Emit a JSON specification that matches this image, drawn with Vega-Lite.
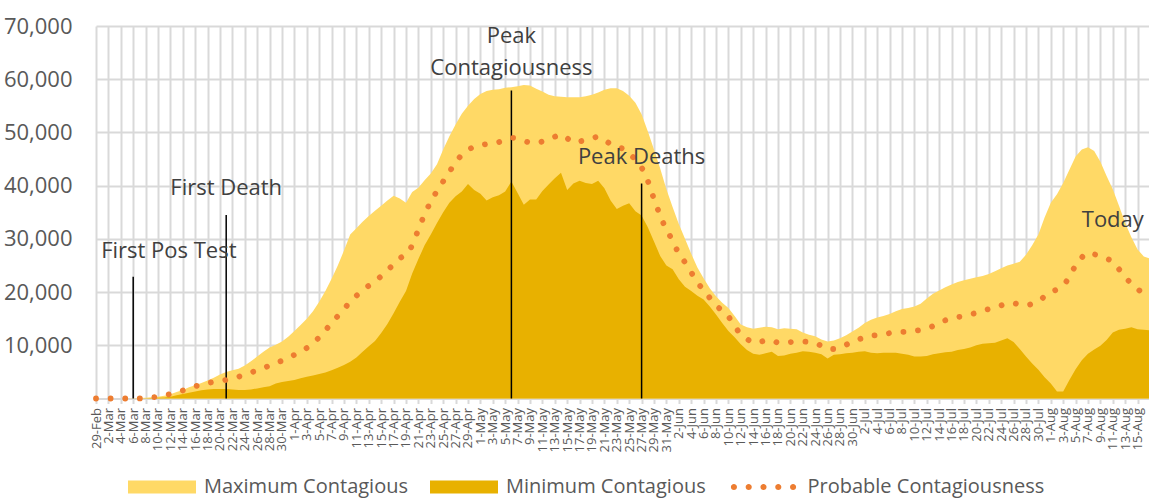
{
  "$schema": "https://vega.github.io/schema/vega-lite/v6.json",
  "width": 1053,
  "height": 372.5,
  "autosize": {"type": "none"},
  "padding": {"left": 96, "top": 26, "right": 0, "bottom": 102.5},
  "background": "white",
  "config": {"view": {"stroke": null}, "font": "Open Sans"},
  "datasets": {
    "series": [
      {"date":"2020-02-29","max":0,"min":0,"prob":0},
      {"date":"2020-03-01","max":0,"min":0,"prob":0},
      {"date":"2020-03-02","max":0,"min":0,"prob":0},
      {"date":"2020-03-03","max":0,"min":0,"prob":0},
      {"date":"2020-03-04","max":0,"min":0,"prob":0},
      {"date":"2020-03-05","max":0,"min":0,"prob":0},
      {"date":"2020-03-06","max":50,"min":0,"prob":0},
      {"date":"2020-03-07","max":100,"min":20,"prob":20},
      {"date":"2020-03-08","max":150,"min":50,"prob":50},
      {"date":"2020-03-09","max":250,"min":80,"prob":200},
      {"date":"2020-03-10","max":350,"min":120,"prob":350},
      {"date":"2020-03-11","max":500,"min":200,"prob":600},
      {"date":"2020-03-12","max":800,"min":350,"prob":850},
      {"date":"2020-03-13","max":1200,"min":600,"prob":1200},
      {"date":"2020-03-14","max":1600,"min":850,"prob":1500},
      {"date":"2020-03-15","max":2100,"min":1100,"prob":1900},
      {"date":"2020-03-16","max":2500,"min":1300,"prob":2300},
      {"date":"2020-03-17","max":2900,"min":1550,"prob":2600},
      {"date":"2020-03-18","max":3400,"min":1700,"prob":2900},
      {"date":"2020-03-19","max":3900,"min":1800,"prob":3100},
      {"date":"2020-03-20","max":4500,"min":1800,"prob":3300},
      {"date":"2020-03-21","max":5000,"min":1800,"prob":3500},
      {"date":"2020-03-22","max":5300,"min":1700,"prob":3800},
      {"date":"2020-03-23","max":5600,"min":1600,"prob":4100},
      {"date":"2020-03-24","max":6200,"min":1600,"prob":4500},
      {"date":"2020-03-25","max":7000,"min":1700,"prob":4900},
      {"date":"2020-03-26","max":7900,"min":1900,"prob":5300},
      {"date":"2020-03-27","max":8800,"min":2100,"prob":5700},
      {"date":"2020-03-28","max":9600,"min":2300,"prob":6200},
      {"date":"2020-03-29","max":10100,"min":2800,"prob":6700},
      {"date":"2020-03-30","max":10700,"min":3100,"prob":7100},
      {"date":"2020-03-31","max":11600,"min":3300,"prob":7700},
      {"date":"2020-04-01","max":12700,"min":3500,"prob":8200},
      {"date":"2020-04-02","max":13800,"min":3800,"prob":8800},
      {"date":"2020-04-03","max":15000,"min":4100,"prob":9500},
      {"date":"2020-04-04","max":16400,"min":4300,"prob":10400},
      {"date":"2020-04-05","max":18200,"min":4600,"prob":11500},
      {"date":"2020-04-06","max":20200,"min":4900,"prob":12800},
      {"date":"2020-04-07","max":22500,"min":5300,"prob":14200},
      {"date":"2020-04-08","max":25000,"min":5800,"prob":15500},
      {"date":"2020-04-09","max":27800,"min":6300,"prob":16800},
      {"date":"2020-04-10","max":30800,"min":6900,"prob":18200},
      {"date":"2020-04-11","max":32000,"min":7700,"prob":19300},
      {"date":"2020-04-12","max":33200,"min":8800,"prob":20300},
      {"date":"2020-04-13","max":34300,"min":9800,"prob":21200},
      {"date":"2020-04-14","max":35300,"min":10800,"prob":22000},
      {"date":"2020-04-15","max":36200,"min":12300,"prob":23000},
      {"date":"2020-04-16","max":37200,"min":14000,"prob":24100},
      {"date":"2020-04-17","max":38100,"min":16000,"prob":25200},
      {"date":"2020-04-18","max":37600,"min":18200,"prob":26300},
      {"date":"2020-04-19","max":36800,"min":20200,"prob":27200},
      {"date":"2020-04-20","max":38800,"min":23500,"prob":28800},
      {"date":"2020-04-21","max":39600,"min":26200,"prob":31800},
      {"date":"2020-04-22","max":41000,"min":28800,"prob":34600},
      {"date":"2020-04-23","max":42300,"min":30800,"prob":37000},
      {"date":"2020-04-24","max":44000,"min":33000,"prob":39000},
      {"date":"2020-04-25","max":46800,"min":35000,"prob":40800},
      {"date":"2020-04-26","max":49300,"min":36800,"prob":42600},
      {"date":"2020-04-27","max":51500,"min":38000,"prob":44300},
      {"date":"2020-04-28","max":53500,"min":38900,"prob":45800},
      {"date":"2020-04-29","max":55000,"min":40300,"prob":46700},
      {"date":"2020-04-30","max":56300,"min":39200,"prob":47300},
      {"date":"2020-05-01","max":57200,"min":38500,"prob":47600},
      {"date":"2020-05-02","max":57800,"min":37200,"prob":47800},
      {"date":"2020-05-03","max":58000,"min":37800,"prob":47900},
      {"date":"2020-05-04","max":58100,"min":38200,"prob":48200},
      {"date":"2020-05-05","max":58400,"min":38900,"prob":48700},
      {"date":"2020-05-06","max":58500,"min":40800,"prob":49000},
      {"date":"2020-05-07","max":58700,"min":38600,"prob":48800},
      {"date":"2020-05-08","max":58900,"min":36400,"prob":48400},
      {"date":"2020-05-09","max":58800,"min":37400,"prob":48100},
      {"date":"2020-05-10","max":58200,"min":37400,"prob":48000},
      {"date":"2020-05-11","max":57700,"min":39000,"prob":48300},
      {"date":"2020-05-12","max":57100,"min":40200,"prob":48700},
      {"date":"2020-05-13","max":56800,"min":41400,"prob":49200},
      {"date":"2020-05-14","max":56700,"min":42400,"prob":49600},
      {"date":"2020-05-15","max":56600,"min":39200,"prob":48900},
      {"date":"2020-05-16","max":56600,"min":40400,"prob":48100},
      {"date":"2020-05-17","max":56600,"min":40900,"prob":48300},
      {"date":"2020-05-18","max":56800,"min":40500,"prob":48600},
      {"date":"2020-05-19","max":57100,"min":40300,"prob":48900},
      {"date":"2020-05-20","max":57500,"min":40900,"prob":49200},
      {"date":"2020-05-21","max":58000,"min":39500,"prob":48600},
      {"date":"2020-05-22","max":58300,"min":37200,"prob":47800},
      {"date":"2020-05-23","max":58300,"min":35600,"prob":47300},
      {"date":"2020-05-24","max":57800,"min":36200,"prob":46900},
      {"date":"2020-05-25","max":56900,"min":36700,"prob":46000},
      {"date":"2020-05-26","max":55600,"min":35200,"prob":44900},
      {"date":"2020-05-27","max":53400,"min":34400,"prob":43400},
      {"date":"2020-05-28","max":50200,"min":32200,"prob":40900},
      {"date":"2020-05-29","max":46800,"min":29500,"prob":37500},
      {"date":"2020-05-30","max":43200,"min":26800,"prob":34400},
      {"date":"2020-05-31","max":39300,"min":25000,"prob":31700},
      {"date":"2020-06-01","max":36000,"min":24300,"prob":29700},
      {"date":"2020-06-02","max":32800,"min":22400,"prob":27200},
      {"date":"2020-06-03","max":30000,"min":21000,"prob":25600},
      {"date":"2020-06-04","max":27200,"min":20200,"prob":23700},
      {"date":"2020-06-05","max":24600,"min":19300,"prob":21800},
      {"date":"2020-06-06","max":22600,"min":18600,"prob":20400},
      {"date":"2020-06-07","max":20700,"min":17300,"prob":18900},
      {"date":"2020-06-08","max":19200,"min":15800,"prob":17500},
      {"date":"2020-06-09","max":18000,"min":14200,"prob":16500},
      {"date":"2020-06-10","max":17000,"min":12700,"prob":15400},
      {"date":"2020-06-11","max":15500,"min":11500,"prob":13600},
      {"date":"2020-06-12","max":13900,"min":10200,"prob":12100},
      {"date":"2020-06-13","max":13400,"min":9100,"prob":11200},
      {"date":"2020-06-14","max":13100,"min":8400,"prob":10500},
      {"date":"2020-06-15","max":13300,"min":8200,"prob":10600},
      {"date":"2020-06-16","max":13500,"min":8500,"prob":10900},
      {"date":"2020-06-17","max":13400,"min":8800,"prob":11000},
      {"date":"2020-06-18","max":13000,"min":8000,"prob":10500},
      {"date":"2020-06-19","max":13200,"min":8100,"prob":10500},
      {"date":"2020-06-20","max":13100,"min":8400,"prob":10600},
      {"date":"2020-06-21","max":13000,"min":8600,"prob":10700},
      {"date":"2020-06-22","max":12400,"min":8900,"prob":10700},
      {"date":"2020-06-23","max":12000,"min":8800,"prob":10600},
      {"date":"2020-06-24","max":11700,"min":8600,"prob":10400},
      {"date":"2020-06-25","max":11100,"min":8300,"prob":9900},
      {"date":"2020-06-26","max":10700,"min":7500,"prob":9300},
      {"date":"2020-06-27","max":10900,"min":8200,"prob":9300},
      {"date":"2020-06-28","max":11300,"min":8300,"prob":9600},
      {"date":"2020-06-29","max":11900,"min":8500,"prob":10100},
      {"date":"2020-06-30","max":12600,"min":8600,"prob":10700},
      {"date":"2020-07-01","max":13300,"min":8800,"prob":11100},
      {"date":"2020-07-02","max":14200,"min":8900,"prob":11500},
      {"date":"2020-07-03","max":14800,"min":8600,"prob":11800},
      {"date":"2020-07-04","max":15200,"min":8500,"prob":11900},
      {"date":"2020-07-05","max":15500,"min":8600,"prob":12000},
      {"date":"2020-07-06","max":15900,"min":8600,"prob":12300},
      {"date":"2020-07-07","max":16400,"min":8600,"prob":12500},
      {"date":"2020-07-08","max":16800,"min":8400,"prob":12500},
      {"date":"2020-07-09","max":17000,"min":8200,"prob":12600},
      {"date":"2020-07-10","max":17300,"min":7900,"prob":12700},
      {"date":"2020-07-11","max":17800,"min":7900,"prob":12900},
      {"date":"2020-07-12","max":18800,"min":8000,"prob":13200},
      {"date":"2020-07-13","max":19700,"min":8300,"prob":13600},
      {"date":"2020-07-14","max":20300,"min":8500,"prob":14200},
      {"date":"2020-07-15","max":20900,"min":8700,"prob":14700},
      {"date":"2020-07-16","max":21400,"min":8800,"prob":15100},
      {"date":"2020-07-17","max":21900,"min":9100,"prob":15300},
      {"date":"2020-07-18","max":22200,"min":9300,"prob":15500},
      {"date":"2020-07-19","max":22500,"min":9600,"prob":15800},
      {"date":"2020-07-20","max":22800,"min":10000,"prob":16100},
      {"date":"2020-07-21","max":23000,"min":10300,"prob":16500},
      {"date":"2020-07-22","max":23400,"min":10400,"prob":16800},
      {"date":"2020-07-23","max":23900,"min":10500,"prob":17100},
      {"date":"2020-07-24","max":24500,"min":10900,"prob":17500},
      {"date":"2020-07-25","max":25000,"min":11300,"prob":17900},
      {"date":"2020-07-26","max":25300,"min":10600,"prob":17900},
      {"date":"2020-07-27","max":25700,"min":9300,"prob":17600},
      {"date":"2020-07-28","max":27000,"min":7900,"prob":17500},
      {"date":"2020-07-29","max":28800,"min":6600,"prob":17800},
      {"date":"2020-07-30","max":30800,"min":5400,"prob":18200},
      {"date":"2020-07-31","max":34000,"min":4000,"prob":19200},
      {"date":"2020-08-01","max":36800,"min":2800,"prob":20000},
      {"date":"2020-08-02","max":38400,"min":1300,"prob":20500},
      {"date":"2020-08-03","max":40500,"min":1300,"prob":21200},
      {"date":"2020-08-04","max":43000,"min":3500,"prob":22900},
      {"date":"2020-08-05","max":45500,"min":5500,"prob":25000},
      {"date":"2020-08-06","max":46800,"min":7200,"prob":26500},
      {"date":"2020-08-07","max":47200,"min":8400,"prob":27400},
      {"date":"2020-08-08","max":46500,"min":9200,"prob":27100},
      {"date":"2020-08-09","max":44500,"min":9900,"prob":26800},
      {"date":"2020-08-10","max":41800,"min":11000,"prob":26300},
      {"date":"2020-08-11","max":39300,"min":12400,"prob":25700},
      {"date":"2020-08-12","max":36200,"min":12900,"prob":24300},
      {"date":"2020-08-13","max":33000,"min":13100,"prob":22800},
      {"date":"2020-08-14","max":30300,"min":13400,"prob":21600},
      {"date":"2020-08-15","max":28000,"min":13000,"prob":20600},
      {"date":"2020-08-16","max":26700,"min":12900,"prob":19600},
      {"date":"2020-08-17","max":26300,"min":12800,"prob":19200}
    ],
    "events": [
      {"date":"2020-03-06","top":22900},
      {"date":"2020-03-21","top":34500},
      {"date":"2020-05-06","top":57900},
      {"date":"2020-05-27","top":40400}
    ],
    "notes": [
      {"date":"2020-03-11T18:00:00Z","y":27760,"text":"First Pos Test"},
      {"date":"2020-03-21","y":39600,"text":"First Death"},
      {"date":"2020-05-06","y":68200,"text":"Peak"},
      {"date":"2020-05-06","y":62200,"text":"Contagiousness"},
      {"date":"2020-05-27","y":45300,"text":"Peak Deaths"},
      {"date":"2020-08-11","y":33600,"text":"Today"}
    ]
  },
  "encoding": {
    "x": {
      "field": "date",
      "type": "temporal",
      "title": null,
      "scale": {"type": "utc", "domain": [1582934400000, 1597608576000]},
      "axis": {
        "values": [1582934400000,1583107200000,1583280000000,1583452800000,1583625600000,1583798400000,1583971200000,1584144000000,1584316800000,1584489600000,1584662400000,1584835200000,1585008000000,1585180800000,1585353600000,1585526400000,1585699200000,1585872000000,1586044800000,1586217600000,1586390400000,1586563200000,1586736000000,1586908800000,1587081600000,1587254400000,1587427200000,1587600000000,1587772800000,1587945600000,1588118400000,1588291200000,1588464000000,1588636800000,1588809600000,1588982400000,1589155200000,1589328000000,1589500800000,1589673600000,1589846400000,1590019200000,1590192000000,1590364800000,1590537600000,1590710400000,1590883200000,1591056000000,1591228800000,1591401600000,1591574400000,1591747200000,1591920000000,1592092800000,1592265600000,1592438400000,1592611200000,1592784000000,1592956800000,1593129600000,1593302400000,1593475200000,1593648000000,1593820800000,1593993600000,1594166400000,1594339200000,1594512000000,1594684800000,1594857600000,1595030400000,1595203200000,1595376000000,1595548800000,1595721600000,1595894400000,1596067200000,1596240000000,1596412800000,1596585600000,1596758400000,1596931200000,1597104000000,1597276800000,1597449600000,1597622400000],
        "format": "%-d-%b",
        "labelAngle": -90,
        "labelFontSize": 13,
        "labelFont": "Open Sans",
        "labelColor": "#595959",
        "labelPadding": 4,
        "labelOverlap": false,
        "labelBound": false,
        "labelFlush": false,
        "grid": true,
        "gridColor": "#d9d9d9",
        "gridWidth": 2,
        "domainColor": "#d9d9d9",
        "domainWidth": 2,
        "tickColor": "#d9d9d9",
        "tickSize": 5,
        "tickWidth": 2
      }
    }
  },
  "layer": [
    {
      "data": {"name": "series"},
      "mark": {"type": "area", "opacity": 1},
      "encoding": {
        "y": {
          "field": "max",
          "type": "quantitative",
          "title": null,
          "scale": {"domain": [0, 70000], "nice": false},
          "axis": {
            "values": [10000,20000,30000,40000,50000,60000,70000],
            "format": ",d",
            "labelFontSize": 22,
            "labelFont": "Open Sans",
            "labelColor": "#595959",
            "labelPadding": 24,
            "ticks": false,
            "domain": false,
            "grid": true,
            "gridColor": "#d9d9d9",
            "gridWidth": 2
          }
        },
        "color": {
          "datum": "Maximum Contagious",
          "type": "nominal",
          "scale": {
            "domain": ["Maximum Contagious", "Minimum Contagious"],
            "range": ["#FFD966", "#E8B100"]
          },
          "legend": {
            "orient": "none",
            "legendX": 32,
            "legendY": 427,
            "direction": "horizontal",
            "title": null,
            "padding": 0,
            "symbolType": "M-1,-0.19H1V0.19H-1Z",
            "symbolSize": 4624,
            "symbolStrokeWidth": 0,
            "labelFontSize": 20,
            "labelFont": "Open Sans",
            "labelColor": "#595959",
            "labelOffset": 8,
            "labelLimit": 400,
            "columnPadding": 22
          }
        }
      }
    },
    {
      "data": {"name": "series"},
      "mark": {"type": "area", "opacity": 1},
      "encoding": {
        "y": {"field": "min", "type": "quantitative"},
        "color": {"datum": "Minimum Contagious", "type": "nominal"}
      }
    },
    {
      "data": {"name": "events"},
      "mark": {"type": "rule", "color": "black", "strokeWidth": 1.5},
      "encoding": {
        "y": {"field": "top", "type": "quantitative"},
        "y2": {"datum": 0}
      }
    },
    {
      "data": {"name": "series"},
      "mark": {"type": "line", "color": "#ED7D31", "interpolate": "monotone", "strokeWidth": 5.8, "strokeCap": "round", "strokeDash": [0.01, 14.6]},
      "encoding": {
        "y": {"field": "prob", "type": "quantitative"}
      }
    },
    {
      "data": {"values": []},
      "mark": {"type": "point", "filled": true},
      "encoding": {
        "y": {"field": "prob", "type": "quantitative"},
        "fill": {
          "datum": "Probable Contagiousness",
          "type": "nominal",
          "scale": {"domain": ["Probable Contagiousness"], "range": ["#ED7D31"]},
          "legend": {
            "orient": "none",
            "legendX": 633.5,
            "legendY": 427,
            "direction": "horizontal",
            "title": null,
            "padding": 0,
            "symbolType": "M-0.96,0a0.09,0.09 0 1,0 0.18,0a0.09,0.09 0 1,0 -0.18,0ZM-0.525,0a0.09,0.09 0 1,0 0.18,0a0.09,0.09 0 1,0 -0.18,0ZM-0.09,0a0.09,0.09 0 1,0 0.18,0a0.09,0.09 0 1,0 -0.18,0ZM0.345,0a0.09,0.09 0 1,0 0.18,0a0.09,0.09 0 1,0 -0.18,0ZM0.78,0a0.09,0.09 0 1,0 0.18,0a0.09,0.09 0 1,0 -0.18,0Z",
            "symbolSize": 4624,
            "symbolStrokeWidth": 0,
            "symbolOpacity": 1,
            "labelFontSize": 20,
            "labelFont": "Open Sans",
            "labelColor": "#595959",
            "labelOffset": 10,
            "labelLimit": 400
          }
        }
      }
    },
    {
      "data": {"name": "notes"},
      "mark": {"type": "text", "font": "Open Sans", "fontSize": 22, "color": "#404040", "align": "center", "baseline": "middle"},
      "encoding": {
        "y": {"field": "y", "type": "quantitative"},
        "text": {"field": "text"}
      }
    }
  ]
}
